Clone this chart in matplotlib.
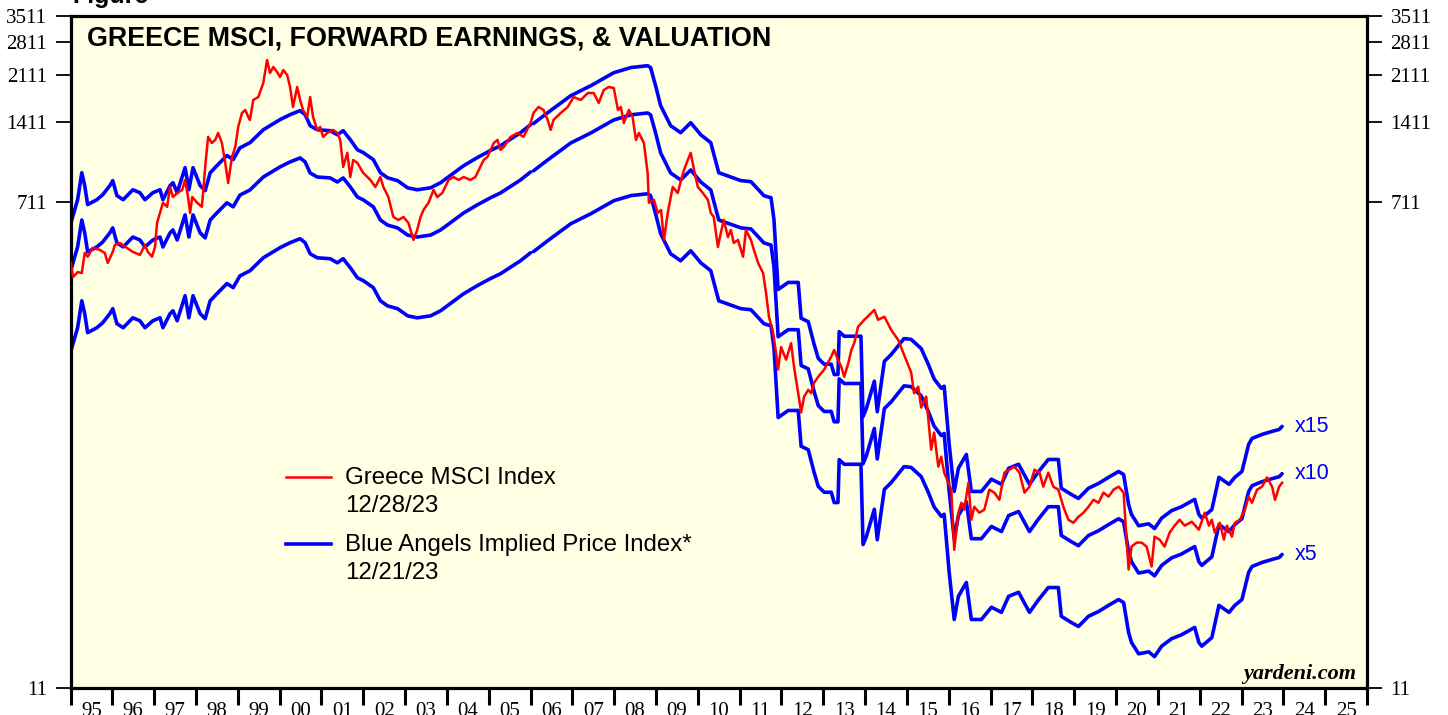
import numpy as np
import matplotlib
matplotlib.use('Agg')
import matplotlib.pyplot as plt
from matplotlib.lines import Line2D
from matplotlib.ticker import NullLocator

# ---------------- data ----------------
red_year = [
    1995.01, 1995.06, 1995.17, 1995.27, 1995.34, 1995.41, 1995.53, 1995.70, 1995.82, 1995.89,
    1996.01, 1996.06, 1996.18, 1996.35, 1996.49, 1996.66, 1996.78, 1996.85, 1996.95, 1997.02,
    1997.07, 1997.14, 1997.21, 1997.31, 1997.38, 1997.45, 1997.55, 1997.67, 1997.74, 1997.81,
    1997.86, 1997.91, 1998.03, 1998.14, 1998.17, 1998.22, 1998.29, 1998.38, 1998.46, 1998.53,
    1998.62, 1998.70, 1998.77, 1998.86, 1998.94, 1999.01, 1999.10, 1999.18, 1999.25, 1999.29,
    1999.37, 1999.49, 1999.61, 1999.70, 1999.77, 1999.85, 1999.94, 2000.01, 2000.09, 2000.18,
    2000.25, 2000.32, 2000.42, 2000.49, 2000.56, 2000.66, 2000.73, 2000.80, 2000.90, 2000.97,
    2001.04, 2001.14, 2001.28, 2001.38, 2001.45, 2001.52, 2001.62, 2001.69, 2001.76, 2001.86,
    2002.00, 2002.17, 2002.29, 2002.41, 2002.48, 2002.60, 2002.72, 2002.84, 2002.96, 2003.08,
    2003.20, 2003.29, 2003.37, 2003.44, 2003.56, 2003.68, 2003.77, 2003.89, 2004.04, 2004.16,
    2004.28, 2004.40, 2004.56, 2004.68, 2004.80, 2004.88, 2004.97, 2005.12, 2005.21, 2005.28,
    2005.36, 2005.52, 2005.69, 2005.83, 2006.00, 2006.07, 2006.19, 2006.31, 2006.41, 2006.48,
    2006.55, 2006.72, 2006.89, 2007.03, 2007.20, 2007.37, 2007.51, 2007.63, 2007.75, 2007.87,
    2007.99, 2008.09, 2008.16, 2008.23, 2008.35, 2008.44, 2008.52, 2008.59, 2008.71, 2008.80,
    2008.83, 2008.95, 2009.04, 2009.12, 2009.19, 2009.28, 2009.40, 2009.52, 2009.60, 2009.67,
    2009.76, 2009.83, 2009.91, 2010.00, 2010.12, 2010.24, 2010.31, 2010.38, 2010.48, 2010.55,
    2010.62, 2010.72, 2010.79, 2010.86, 2010.96, 2011.08, 2011.15, 2011.27, 2011.34, 2011.44,
    2011.56, 2011.63, 2011.70, 2011.80, 2011.87, 2011.92, 2011.99, 2012.11, 2012.23, 2012.30,
    2012.40, 2012.47, 2012.54, 2012.64, 2012.71, 2012.78, 2012.88, 2013.02, 2013.19, 2013.26,
    2013.35, 2013.43, 2013.50, 2013.60, 2013.67, 2013.74, 2013.83, 2013.98, 2014.10, 2014.22,
    2014.31, 2014.46, 2014.62, 2014.79, 2014.93, 2015.10, 2015.17, 2015.27, 2015.34, 2015.46,
    2015.58, 2015.65, 2015.75, 2015.82, 2015.89, 2015.99, 2016.06, 2016.13, 2016.23, 2016.30,
    2016.37, 2016.47, 2016.54, 2016.61, 2016.73, 2016.85, 2016.97, 2017.09, 2017.21, 2017.33,
    2017.45, 2017.57, 2017.69, 2017.81, 2017.93, 2018.05, 2018.17, 2018.26, 2018.38, 2018.50,
    2018.62, 2018.74, 2018.86, 2018.98, 2019.10, 2019.22, 2019.34, 2019.46, 2019.58, 2019.70,
    2019.82, 2019.94, 2020.06, 2020.18, 2020.25, 2020.30, 2020.37, 2020.49, 2020.61, 2020.73,
    2020.85, 2020.92, 2021.04, 2021.16, 2021.28, 2021.40, 2021.52, 2021.64, 2021.81, 2021.98,
    2022.12, 2022.22, 2022.29, 2022.36, 2022.48, 2022.58, 2022.65, 2022.77, 2022.84, 2022.96,
    2023.08, 2023.17, 2023.25, 2023.37, 2023.49, 2023.61, 2023.73, 2023.80, 2023.90, 2023.97,
]
red_value = [
    422, 374, 390, 387, 460, 445, 480, 472, 460, 422,
    464, 492, 501, 480, 464, 452, 492, 464, 445, 484,
    595, 648, 707, 683, 810, 743, 769, 789, 860, 743,
    648, 743, 707, 683, 769, 962, 1244, 1181, 1212, 1287,
    1181, 995, 838, 1048, 1141, 1355, 1528, 1568, 1477, 1439,
    1708, 1752, 1977, 2407, 2153, 2267, 2171, 2080, 2209, 2116,
    1910, 1609, 1910, 1708, 1568, 1477, 1752, 1477, 1321, 1355,
    1244, 1287, 1321, 1287, 1212, 962, 1085, 882, 1021, 995,
    913, 860, 810, 882, 810, 743, 626, 610, 626, 595,
    514, 560, 626, 665, 707, 789, 743, 769, 860, 882,
    860, 882, 860, 882, 962, 1021, 1048, 1181, 1212, 1113,
    1141, 1244, 1287, 1244, 1402, 1528, 1609, 1568, 1439, 1321,
    1439, 1528, 1609, 1752, 1708, 1814, 1814, 1665, 1861, 1910,
    1893, 1568, 1609, 1402, 1568, 1477, 1212, 1287, 1181, 913,
    707, 725, 648, 665, 514, 648, 810, 769, 860, 937,
    1021, 1085, 937, 810, 769, 725, 648, 626, 484, 546,
    610, 527, 560, 501, 514, 445, 560, 514, 472, 422,
    387, 327, 266, 232, 195, 169, 205, 184, 212, 173,
    138, 117, 134, 142, 138, 151, 159, 169, 189, 200,
    184, 173, 159, 179, 200, 212, 244, 259, 270, 282,
    259, 266, 238, 218, 192, 165, 138, 146, 122, 134,
    85.0, 98.4, 73.5, 80.0, 69.8, 64.0, 60.3, 36.0, 49.5, 53.9,
    50.8, 64.0, 46.6, 52.1, 49.5, 50.8, 60.3, 58.8, 55.3, 69.8,
    71.6, 73.5, 69.8, 58.8, 61.9, 71.6, 69.8, 61.9, 69.8, 61.9,
    60.3, 52.1, 46.6, 45.4, 47.8, 49.5, 52.1, 55.3, 53.9, 58.8,
    56.8, 60.3, 61.9, 58.8, 39.3, 30.4, 37.0, 38.3, 38.3, 37.0,
    31.2, 40.3, 39.3, 37.0, 41.7, 44.3, 46.6, 44.3, 45.8, 42.8,
    49.5, 44.3, 46.6, 41.7, 45.4, 39.3, 44.3, 40.3, 45.4, 46.6,
    50.8, 56.8, 53.9, 60.3, 61.9, 67.0, 61.9, 55.3, 61.9, 64.0,
]

# forward earnings (Blue Angels implied price = earnings x multiple)
eps_year = [
    1995.01, 1995.17, 1995.27, 1995.34, 1995.41, 1995.63, 1995.77, 1995.94, 1996.01, 1996.11,
    1996.26, 1996.49, 1996.66, 1996.78, 1996.97, 1997.14, 1997.21, 1997.38, 1997.45, 1997.55,
    1997.74, 1997.83, 1997.93, 1998.10, 1998.22, 1998.34, 1998.50, 1998.74, 1998.89, 1999.05,
    1999.29, 1999.61, 2000.01, 2000.25, 2000.49, 2000.61, 2000.73, 2000.90, 2001.21, 2001.38,
    2001.52, 2001.69, 2001.86, 2002.00, 2002.24, 2002.41, 2002.58, 2002.82, 2003.06, 2003.29,
    2003.61, 2003.85, 2004.08, 2004.40, 2004.73, 2005.04, 2005.28, 2005.76, 2006.00, 2006.03,
    2006.07, 2006.41, 2006.96, 2007.44, 2007.99, 2008.40, 2008.80, 2008.87, 2008.99, 2009.11,
    2009.35, 2009.59, 2009.83, 2010.07, 2010.31, 2010.50, 2011.03, 2011.27, 2011.58, 2011.75,
    2011.82, 2011.92, 2012.16, 2012.40, 2012.47, 2012.64, 2012.78, 2012.88, 2013.02, 2013.19,
    2013.26, 2013.35, 2013.38, 2013.50, 2013.90, 2013.95, 2014.03, 2014.22, 2014.29, 2014.46,
    2014.62, 2014.93, 2015.10, 2015.34, 2015.51, 2015.65, 2015.82, 2015.89, 2016.01, 2016.13,
    2016.23, 2016.42, 2016.54, 2016.78, 2017.02, 2017.26, 2017.43, 2017.67, 2017.93, 2018.15,
    2018.38, 2018.62, 2018.69, 2018.93, 2019.10, 2019.34, 2019.58, 2019.82, 2020.06, 2020.18,
    2020.30, 2020.37, 2020.54, 2020.78, 2020.92, 2021.09, 2021.33, 2021.56, 2021.88, 2021.98,
    2022.05, 2022.29, 2022.46, 2022.70, 2022.84, 2023.01, 2023.17, 2023.25, 2023.49, 2023.73,
    2023.90, 2023.97,
]
fwd_eps = [
    39.7, 48.4, 61.0, 54.6, 46.4, 48.4, 50.5, 54.6, 57.0, 50.1,
    48.4, 52.7, 51.4, 48.4, 51.4, 52.7, 48.4, 54.6, 56.0, 51.4,
    63.7, 52.7, 63.7, 54.6, 52.3, 61.0, 64.8, 70.7, 68.3, 75.5,
    78.9, 88.2, 96.2, 100.4, 103.9, 100.4, 91.3, 88.2, 87.5, 84.5,
    87.5, 81.0, 74.3, 72.5, 68.3, 61.0, 58.4, 57.0, 53.6, 52.7,
    53.6, 56.0, 59.5, 64.8, 69.5, 73.8, 76.9, 86.0, 92.1, np.nan,
    93.0, 102.1, 118.1, 128.7, 143.9, 150.4, 152.8, 150.4, 128.7, 108.5,
    91.3, 86.0, 93.7, 84.5, 78.9, 61.0, 57.0, 56.5, 50.1, 49.2,
    40.8, 22.4, 23.8, 23.8, 17.5, 17.0, 14.0, 12.4, 11.8, 11.8,
    10.8, 10.8, 15.6, 15.0, 15.0, 7.53, 8.07, 10.2, 7.85, 12.1,
    12.8, 14.7, 14.6, 13.5, 11.8, 10.4, 9.60, 9.77, 5.93, 3.96,
    4.83, 5.44, 3.96, 3.96, 4.40, 4.21, 4.83, 5.00, 4.21, 4.70,
    5.21, 5.21, 4.07, 3.86, 3.73, 4.07, 4.24, 4.47, 4.70, 4.58,
    3.54, 3.25, 2.95, 3.00, 2.88, 3.15, 3.36, 3.47, 3.70, 3.25,
    3.15, 3.39, 4.47, 4.21, 4.47, 4.70, 5.93, 6.24, 6.46, 6.63,
    6.74, 6.92,
]
pe_multiples = [15, 10, 5]
pe_labels = ['x15', 'x10', 'x5']
y_ticks = [11, 711, 1411, 2111, 2811, 3511]
years = list(range(1995, 2027))
year_labels = ['95', '96', '97', '98', '99', '00', '01', '02', '03', '04', '05', '06', '07',
               '08', '09', '10', '11', '12', '13', '14', '15', '16', '17', '18', '19', '20',
               '21', '22', '23', '24', '25']

# ---------------- figure ----------------
W, H = 1448, 715
plt.rcParams['font.family'] = ['Liberation Sans', 'DejaVu Sans']
fig = plt.figure(figsize=(W / 100, H / 100), dpi=100)
fig.patch.set_facecolor('white')
L, R, T, B = 70.5, 1367.0, 16.0, 688.0
ax = fig.add_axes([L / W, 1 - B / H, (R - L) / W, (B - T) / H])
ax.set_facecolor('#FFFFE4')
ax.set_yscale('log')
ax.set_xlim(1995, 2026)
ax.set_ylim(11, 3511)

blue = '#0000FF'
red = '#FF0000'
eps = np.array(fwd_eps, dtype=float)
ey = np.array(eps_year, dtype=float)
for m in pe_multiples:
    ax.plot(ey, eps * m, color=blue, lw=2.6, solid_joinstyle='round',
            solid_capstyle='round', zorder=2)
ax.plot(red_year, red_value, color=red, lw=1.8, solid_joinstyle='round', zorder=3)

# multiple labels at the end of the blue lines
last_valid = np.where(~np.isnan(eps))[0][-1]
for m, lab in zip(pe_multiples, pe_labels):
    ax.text(ey[last_valid] + 0.3, eps[last_valid] * m, lab, color=blue,
            fontsize=15.5, va='center', ha='left')

# spines
for s in ax.spines.values():
    s.set_linewidth(2.3)
    s.set_color('black')

# y ticks
ax.yaxis.set_minor_locator(NullLocator())
ax.set_yticks(y_ticks, labels=[str(v) for v in y_ticks],
              fontfamily='Liberation Serif', fontsize=15)
ax.tick_params(axis='y', which='major', direction='out', length=11, width=1.3,
               left=True, right=True, labelleft=True, labelright=True, pad=6)

# x ticks: boundaries (major) and year labels centred (minor)
ax.set_xticks(years, labels=[''] * len(years))
ax.tick_params(axis='x', which='major', direction='out', length=12, width=2.2)
ax.set_xticks([y + 0.5 for y in years[:-1]], labels=year_labels, minor=True,
              fontfamily='Liberation Serif', fontsize=15)
ax.tick_params(axis='x', which='minor', length=0, pad=10)

# title
fig.text(87 / W, 1 - 45 / H, 'GREECE MSCI, FORWARD EARNINGS, & VALUATION',
         fontsize=19.4, fontweight='bold', ha='left', va='baseline')
fig.text(72 / W, 1 - 3 / H, 'Figure', fontsize=18, fontweight='bold',
         ha='left', va='baseline')

# legend (manual)
fig.add_artist(Line2D([286 / W, 331 / W], [1 - 477 / H] * 2, color=red, lw=1.8,
                      transform=fig.transFigure))
fig.add_artist(Line2D([286 / W, 331 / W], [1 - 544 / H] * 2, color=blue, lw=2.6,
                      transform=fig.transFigure))
fs_leg = 17.3
fig.text(345 / W, 1 - 478 / H, 'Greece MSCI Index', fontsize=fs_leg, va='center')
fig.text(345 / W, 1 - 506 / H, '12/28/23', fontsize=fs_leg, va='center')
fig.text(345 / W, 1 - 545 / H, 'Blue Angels Implied Price Index*', fontsize=fs_leg, va='center')
fig.text(345 / W, 1 - 573 / H, '12/21/23', fontsize=fs_leg, va='center')

fig.text(1356 / W, 1 - 679 / H, 'yardeni.com', fontsize=16, fontweight='bold',
         fontstyle='italic', fontfamily='Liberation Serif', ha='right', va='baseline')

fig.savefig('out.png', dpi=100)
